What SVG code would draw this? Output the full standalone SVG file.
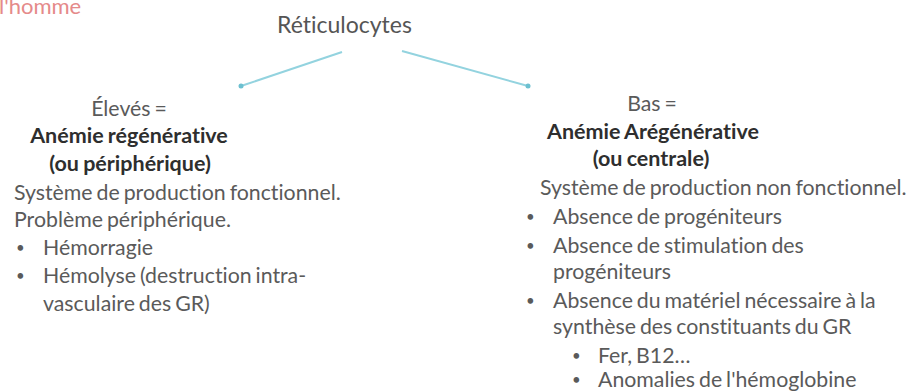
<svg xmlns="http://www.w3.org/2000/svg" width="910" height="392" viewBox="0 0 910 392">
<style>
text{font-family:Lato,"Open Sans","Liberation Sans",sans-serif;font-variant-ligatures:none;}
.t{fill:#5a5a5a;font-size:21.3px;word-spacing:-1.5px;}
.u{fill:#5a5a5a;font-size:15px;}
.b{fill:#2e2e2e;font-size:21.5px;font-weight:bold;word-spacing:-1px;}
.h{fill:#555;font-size:23px;}
.r{fill:#e58a8a;font-size:22px;}
.c{stroke:#93d3df;stroke-width:2;fill:none;}
.d{fill:#6cc0d0;}
</style>
<rect width="910" height="392" fill="#fff"/>
<text class="r" x="-1" y="14">l'homme</text>
<g id="root"><text class="h" x="277" y="33">Réticulocytes</text></g>
<g id="connectors">
<line class="c" x1="342" y1="52" x2="241" y2="86"/>
<circle class="d" cx="241" cy="86" r="2.5"/>
<line class="c" x1="402" y1="51" x2="528" y2="86"/>
<circle class="d" cx="528" cy="86" r="2.5"/>
</g>
<g id="left">
<text class="t" x="129" y="116" text-anchor="middle">Élevés =</text>
<text class="b" x="129" y="143" text-anchor="middle">Anémie régénérative</text>
<text class="b" x="130" y="171" text-anchor="middle">(ou périphérique)</text>
<text class="t" x="14" y="200" word-spacing="-1">Système de production fonctionnel.</text>
<text class="t" x="14" y="227">Problème périphérique.</text>
<text class="u" x="16" y="253">•</text><text class="t" x="43" y="255">Hémorragie</text>
<text class="u" x="16" y="281">•</text><text class="t" x="43" y="283">Hémolyse (destruction intra-</text>
<text class="t" x="43" y="311">vasculaire des GR)</text>
</g>
<g id="right">
<text class="t" x="652" y="111" text-anchor="middle">Bas =</text>
<text class="b" x="653" y="139" text-anchor="middle">Anémie Arégénérative</text>
<text class="b" x="651" y="166" text-anchor="middle">(ou centrale)</text>
<text class="t" x="540" y="195" word-spacing="-2">Système de production non fonctionnel.</text>
<text class="u" x="526" y="222">•</text><text class="t" x="553" y="224">Absence de progéniteurs</text>
<text class="u" x="526" y="251">•</text><text class="t" x="553" y="253">Absence de stimulation des</text>
<text class="t" x="553" y="279">progéniteurs</text>
<text class="u" x="526" y="306">•</text><text class="t" x="553" y="308">Absence du matériel nécessaire à la</text>
<text class="t" x="553" y="334">synthèse des constituants du GR</text>
<text class="u" x="572" y="361">•</text><text class="t" x="598" y="363">Fer, B12…</text>
<text class="u" x="572" y="385">•</text><text class="t" x="598" y="387">Anomalies de l'hémoglobine</text>
</g>
</svg>
